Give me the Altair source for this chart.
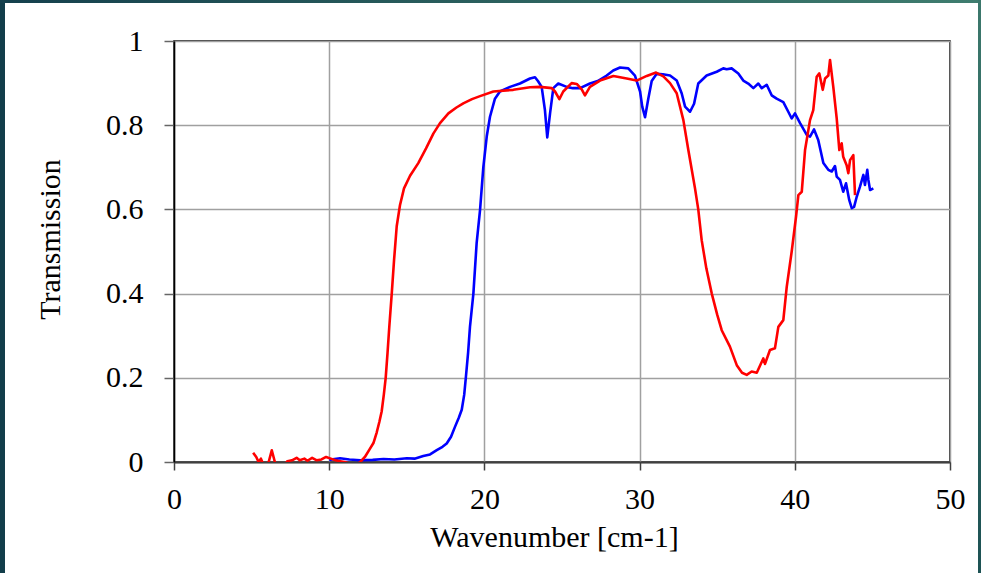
import altair as alt
import pandas as pd

# ---- data ----
blue_x = [10.0, 10.7, 11.3, 12.0, 12.8, 13.5, 14.2, 15.0, 15.5, 16.06, 16.5, 16.93, 17.3, 17.57,
          17.85, 18.11, 18.35, 18.54, 18.7, 18.81, 18.95, 19.07, 19.29, 19.5, 19.72, 19.93, 20.15,
          20.36, 20.68, 21.0, 21.65, 22.29, 22.94, 23.26, 23.45, 23.69, 23.9, 24.05, 24.23, 24.44,
          24.76, 25.3, 25.7, 26.16, 26.8, 27.3, 27.88, 28.3, 28.74, 29.27, 29.7, 30.03, 30.17, 30.35,
          30.56, 30.78, 31.1, 31.5, 31.96, 32.39, 32.71, 32.93, 33.25, 33.51, 33.78, 34.32, 34.97,
          35.39, 35.61, 35.93, 36.36, 36.68, 37.0, 37.33, 37.65, 37.87, 38.19, 38.51, 38.83, 39.26,
          39.58, 39.8, 40.01, 40.34, 40.77, 40.98, 41.24, 41.51, 41.84, 42.16, 42.38, 42.59, 42.7,
          42.91, 43.12, 43.3, 43.51, 43.67, 43.82, 43.99, 44.2, 44.42, 44.52, 44.67, 44.74, 44.85, 45.06]
blue_y = [0.005, 0.009, 0.006, 0.004, 0.005, 0.007, 0.006, 0.009, 0.008, 0.014, 0.018, 0.028, 0.036, 0.044,
          0.06, 0.084, 0.105, 0.124, 0.16, 0.203, 0.26, 0.321, 0.40, 0.52, 0.599, 0.70, 0.773,
          0.82, 0.863, 0.88, 0.891, 0.899, 0.911, 0.914, 0.905, 0.891, 0.836, 0.771, 0.828, 0.888,
          0.899, 0.891, 0.888, 0.888, 0.899, 0.905, 0.918, 0.93, 0.937, 0.935, 0.918, 0.88, 0.844, 0.819,
          0.863, 0.905, 0.922, 0.921, 0.918, 0.906, 0.876, 0.844, 0.832, 0.851, 0.899, 0.918, 0.927,
          0.935, 0.933, 0.935, 0.923, 0.906, 0.899, 0.888, 0.899, 0.888, 0.896, 0.871, 0.863, 0.855,
          0.832, 0.816, 0.828, 0.805, 0.777, 0.773, 0.79, 0.765, 0.71, 0.694, 0.69, 0.703, 0.678,
          0.67, 0.642, 0.662, 0.622, 0.603, 0.606, 0.63, 0.654, 0.682, 0.658, 0.694, 0.67, 0.646, 0.65]

red_x = [5.1, 5.3, 5.45, 5.6, 5.8, 6.1, 6.3, 6.5, 6.7, 7.1, 7.3, 7.6, 7.9, 8.1, 8.4, 8.6, 8.9, 9.2, 9.5,
         9.8, 10.1, 10.4, 10.7, 11.0, 11.4, 11.8, 12.0, 12.3, 12.6, 12.85, 13.06, 13.23, 13.38, 13.52,
         13.64, 13.76, 13.87, 14.03, 14.18, 14.35, 14.56, 14.82, 15.21, 15.74, 16.24, 16.71, 17.14,
         17.68, 18.2, 18.64, 19.2, 19.72, 20.58, 21.86, 22.94, 23.58, 24.34, 24.55, 24.83, 25.08,
         25.62, 25.95, 26.27, 26.48, 26.8, 27.45, 28.31, 29.17, 29.81, 30.46, 31.06, 31.53, 31.96,
         32.39, 32.82, 33.14, 33.57, 33.78, 34.0, 34.3, 34.65, 35.0, 35.29, 35.82, 36.26, 36.6, 36.9,
         37.22, 37.55, 37.97, 38.08, 38.4, 38.72, 38.94, 39.26, 39.48, 39.8, 40.08, 40.23, 40.45,
         40.66, 40.98, 41.19, 41.41, 41.58, 41.8, 41.95, 42.16, 42.27, 42.48, 42.7, 42.87, 43.02,
         43.12, 43.34, 43.45, 43.56, 43.77, 43.88]
red_y = [0.022, 0.012, 0.0, 0.008, -0.01, 0.0, 0.028, 0.0, -0.01, -0.01, 0.002, 0.004, 0.01, 0.004, 0.008,
         0.003, 0.01, 0.004, 0.006, 0.012, 0.008, 0.004, 0.002, 0.0, -0.005, -0.005, 0.0, 0.012, 0.03,
         0.045, 0.07, 0.095, 0.12, 0.16, 0.20, 0.26, 0.32, 0.40, 0.48, 0.56, 0.61, 0.65, 0.68, 0.71,
         0.745, 0.78, 0.805, 0.828, 0.842, 0.852, 0.862, 0.869, 0.88, 0.884, 0.89, 0.891, 0.888, 0.88,
         0.862, 0.88, 0.90, 0.898, 0.885, 0.871, 0.891, 0.906, 0.917, 0.911, 0.906, 0.917, 0.925,
         0.916, 0.90, 0.876, 0.812, 0.741, 0.65, 0.60, 0.527, 0.46, 0.40, 0.35, 0.313, 0.274, 0.23,
         0.212, 0.207, 0.215, 0.212, 0.246, 0.233, 0.266, 0.27, 0.321, 0.337, 0.416, 0.50, 0.583,
         0.634, 0.642, 0.741, 0.812, 0.836, 0.915, 0.923, 0.884, 0.911, 0.918, 0.955, 0.891, 0.816,
         0.741, 0.757, 0.725, 0.705, 0.686, 0.717, 0.729, 0.634]

x_ticks = [0, 10, 20, 30, 40, 50]
y_ticks = [0, 0.2, 0.4, 0.6, 0.8, 1]

blue_df = pd.DataFrame({"x": blue_x, "y": blue_y})
red_df = pd.DataFrame({"x": red_x, "y": red_y})

FONT = "Liberation Serif"
W, H = 776, 421

xscale = alt.Scale(domain=[0, 50], nice=False)
yscale = alt.Scale(domain=[0, 1], nice=False)

xaxis = alt.Axis(values=x_ticks, grid=True, gridColor="#a0a0a0", gridWidth=1.5,
                 domainColor="#404040", domainWidth=2, tickColor="#404040", tickSize=8,
                 tickWidth=1.5, labelFont=FONT, labelFontSize=30, labelColor="black",
                 labelPadding=14, labelFlush=False, labelOverlap=False,
                 title="Wavenumber [cm-1]", titleFont=FONT, titleFontSize=30,
                 titleFontWeight="normal", titleColor="black", titlePadding=8, titleX=380)
yaxis = alt.Axis(values=y_ticks, format="~g", grid=True, gridColor="#a0a0a0", gridWidth=1.5,
                 domainColor="black", domainWidth=1.5, tickColor="#666666", tickSize=10,
                 tickWidth=1.5, labelFont=FONT, labelFontSize=30, labelColor="black",
                 labelPadding=21, labelFlush=False, labelOverlap=False,
                 title="Transmission", titleFont=FONT, titleFontSize=30,
                 titleFontWeight="normal", titleColor="black", titleX=-124, titleY=198,
                 titleBaseline="middle")

blue = alt.Chart(blue_df).mark_line(color="#0000ff", strokeWidth=2.6, strokeJoin="round",
                                    clip=True).encode(
    x=alt.X("x:Q", scale=xscale, axis=xaxis),
    y=alt.Y("y:Q", scale=yscale, axis=yaxis),
)
red = alt.Chart(red_df).mark_line(color="#ff0000", strokeWidth=2.6, strokeJoin="round",
                                  clip=True).encode(
    x=alt.X("x:Q", scale=xscale, axis=xaxis),
    y=alt.Y("y:Q", scale=yscale, axis=yaxis),
)

one = alt.Data(values=[{"k": 1}])
top_grad = alt.Gradient(gradient="linear", x1=0, y1=0, x2=1, y2=0,
                        stops=[alt.GradientStop(color="#15404d", offset=0),
                               alt.GradientStop(color="#2f6661", offset=0.6),
                               alt.GradientStop(color="#3f7d6f", offset=1)])
right_grad = alt.Gradient(gradient="linear", x1=0, y1=0, x2=0, y2=1,
                          stops=[alt.GradientStop(color="#3c786c", offset=0),
                                 alt.GradientStop(color="#1d5254", offset=1)])

left_strip = alt.Chart(one).mark_rect(color="#123d4a").encode(
    x=alt.value(-174), x2=alt.value(-169), y=alt.value(-41), y2=alt.value(532))
top_strip = alt.Chart(one).mark_rect(color=top_grad).encode(
    x=alt.value(-174), x2=alt.value(807), y=alt.value(-41), y2=alt.value(-38))
right_strip = alt.Chart(one).mark_rect(color=right_grad).encode(
    x=alt.value(804), x2=alt.value(807), y=alt.value(-41), y2=alt.value(532))

chart = alt.layer(blue, red, left_strip, top_strip, right_strip).properties(
    width=W, height=H,
    autosize=alt.AutoSizeParams(type="none"),
    padding={"left": 174, "top": 41, "right": 31, "bottom": 111},
    background="white",
).configure_view(stroke="black", strokeWidth=1.5)

chart.save("out.html", embed_options={"renderer": "svg", "actions": False})
